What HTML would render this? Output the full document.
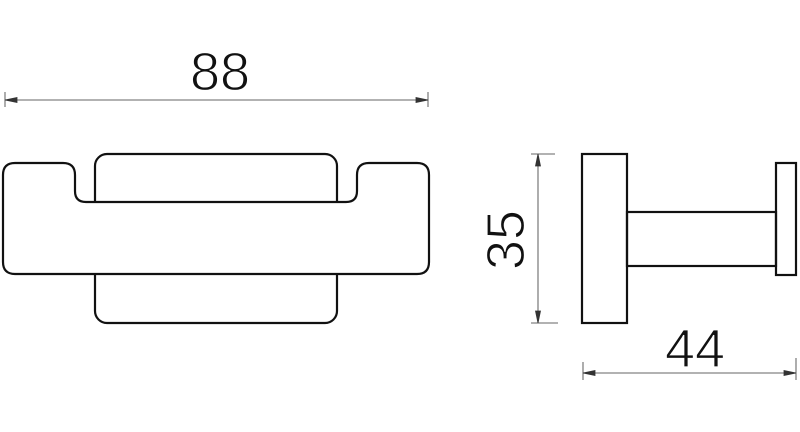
<!DOCTYPE html>
<html><head><style>html,body{margin:0;padding:0;background:#fff;width:800px;height:432px;overflow:hidden}</style></head>
<body>
<svg width="800" height="432" viewBox="0 0 800 432" xmlns="http://www.w3.org/2000/svg">
<g fill="none" stroke="#111" stroke-width="2.2">
<rect x="95" y="154" width="242" height="169" rx="12"/>
<path d="M15 163 H63 Q75 163 75 175 V191 Q75 202 86 202 H346 Q357 202 357 191 V175 Q357 163 369 163 H417 Q429 163 429 175 V262 Q429 274 417 274 H15 Q3 274 3 262 V175 Q3 163 15 163 Z" fill="#fff"/>
<rect x="582" y="154" width="45" height="169"/>
<rect x="627" y="212" width="149" height="54"/>
<rect x="776" y="163" width="20" height="112"/>
</g>
<g stroke="#333" stroke-width="0.8" fill="#333">
<line x1="5" y1="100" x2="428" y2="100"/>
<line x1="5" y1="92" x2="5" y2="107"/><line x1="428" y1="92" x2="428" y2="107"/>
<path d="M5 100 L17 97.5 L17 102.5Z"/><path d="M428 100 L416 97.5 L416 102.5Z"/>
<line x1="538" y1="154" x2="538" y2="323"/>
<line x1="531" y1="154" x2="555" y2="154"/><line x1="531" y1="323" x2="558" y2="323"/>
<path d="M538 154 L535.5 166 L540.5 166Z"/><path d="M538 323 L535.5 311 L540.5 311Z"/>
<line x1="583" y1="373" x2="796" y2="373"/>
<line x1="583" y1="362" x2="583" y2="380"/><line x1="796" y1="358" x2="796" y2="380"/>
<path d="M583 373 L595 370.5 L595 375.5Z"/><path d="M796 373 L784 370.5 L784 375.5Z"/>
</g>
<g font-family="Liberation Sans, sans-serif" font-size="54" fill="#111" text-anchor="middle" style="font-weight:normal">
<text x="220" y="90" stroke="#fff" stroke-width="1.2">88</text>
<text x="695" y="367" stroke="#fff" stroke-width="1.2">44</text>
<text x="0" y="0" transform="translate(524 240) rotate(-90)" stroke="#fff" stroke-width="1.2">35</text>
</g>
</svg>
</body></html>
